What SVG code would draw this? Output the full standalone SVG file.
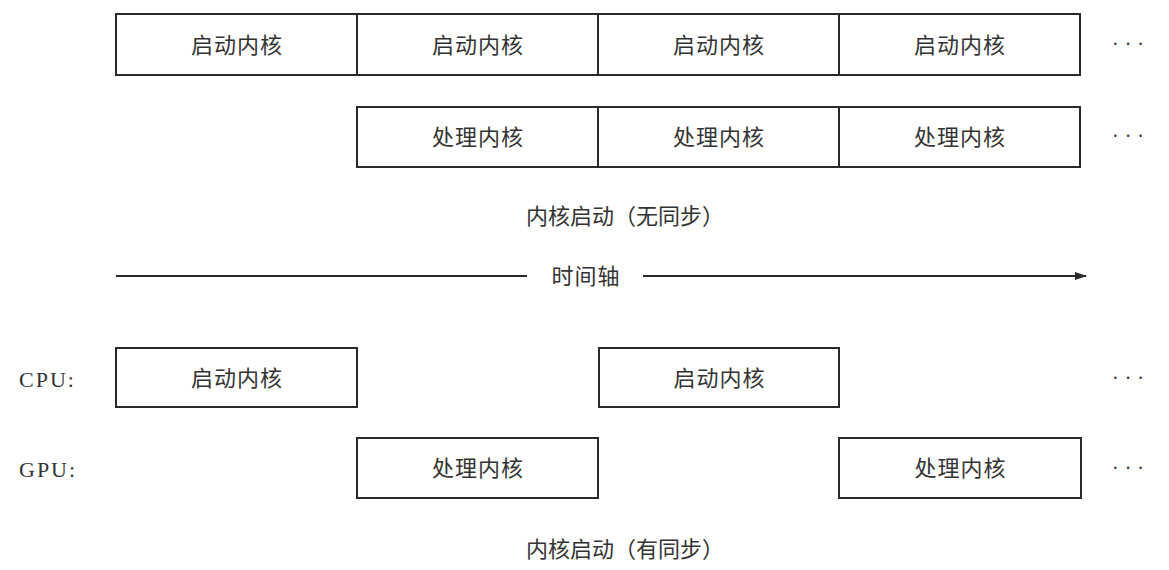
<svg xmlns="http://www.w3.org/2000/svg" width="1169" height="570" viewBox="0 0 1169 570">
<defs>
<style>
.box{fill:#fff;stroke:#2a2a2a;stroke-width:2}
.t{font-family:"Noto Sans CJK SC","Noto Sans CJK JP",sans-serif;font-size:22px;fill:#333;text-anchor:middle;dominant-baseline:central}
.k{letter-spacing:1px}
.lbl{font-family:"Liberation Serif","Noto Sans CJK SC",serif;font-size:22px;fill:#333;dominant-baseline:central;letter-spacing:2px}
.dots{font-family:"Liberation Serif",serif;font-size:20px;fill:#333;text-anchor:middle;dominant-baseline:central;letter-spacing:6px}
.ln{stroke:#2a2a2a;stroke-width:2;fill:none}
</style>
<marker id="ah" viewBox="0 0 12 10" refX="11" refY="5" markerWidth="12" markerHeight="10" markerUnits="userSpaceOnUse" orient="auto">
<path d="M0,1 L12,5 L0,9 Z" fill="#2a2a2a"/>
</marker>
</defs>
<rect width="1169" height="570" fill="#fff"/>
<g id="row1">
<g id="n1"><rect class="box" x="116" y="14" width="241" height="61"/><text class="t k" x="237" y="42.5">启动内核</text></g>
<g id="n2"><rect class="box" x="357" y="14" width="241" height="61"/><text class="t k" x="478" y="42.5">启动内核</text></g>
<g id="n3"><rect class="box" x="598" y="14" width="241" height="61"/><text class="t k" x="719" y="42.5">启动内核</text></g>
<g id="n4"><rect class="box" x="839" y="14" width="241" height="61"/><text class="t k" x="960" y="42.5">启动内核</text></g>
<text class="dots" x="1131" y="44">···</text>
</g>
<g id="row2">
<g id="n5"><rect class="box" x="357" y="107" width="241" height="60"/><text class="t k" x="478" y="135">处理内核</text></g>
<g id="n6"><rect class="box" x="598" y="107" width="241" height="60"/><text class="t k" x="719" y="135">处理内核</text></g>
<g id="n7"><rect class="box" x="839" y="107" width="241" height="60"/><text class="t k" x="960" y="135">处理内核</text></g>
<text class="dots" x="1131" y="136">···</text>
</g>
<text class="t" x="625" y="214">内核启动（无同步）</text>
<g id="connectors">
<line class="ln" x1="116" y1="276" x2="527" y2="276"/>
<line class="ln" x1="643" y1="276" x2="1086" y2="276" marker-end="url(#ah)"/>
</g>
<text class="t k" x="586" y="274">时间轴</text>
<text class="lbl" x="19" y="379">CPU:</text>
<text class="lbl" x="19" y="469">GPU:</text>
<g id="cpu">
<g id="c1"><rect class="box" x="116" y="348" width="241" height="59"/><text class="t k" x="237" y="375.5">启动内核</text></g>
<g id="c2"><rect class="box" x="599" y="348" width="240" height="59"/><text class="t k" x="719.5" y="375.5">启动内核</text></g>
<text class="dots" x="1131" y="378">···</text>
</g>
<g id="gpu">
<g id="g1"><rect class="box" x="357" y="438" width="241" height="60"/><text class="t k" x="478" y="466">处理内核</text></g>
<g id="g2"><rect class="box" x="839" y="438" width="242" height="60"/><text class="t k" x="960.5" y="466">处理内核</text></g>
<text class="dots" x="1131" y="468">···</text>
</g>
<text class="t" x="625" y="547">内核启动（有同步）</text>
</svg>
